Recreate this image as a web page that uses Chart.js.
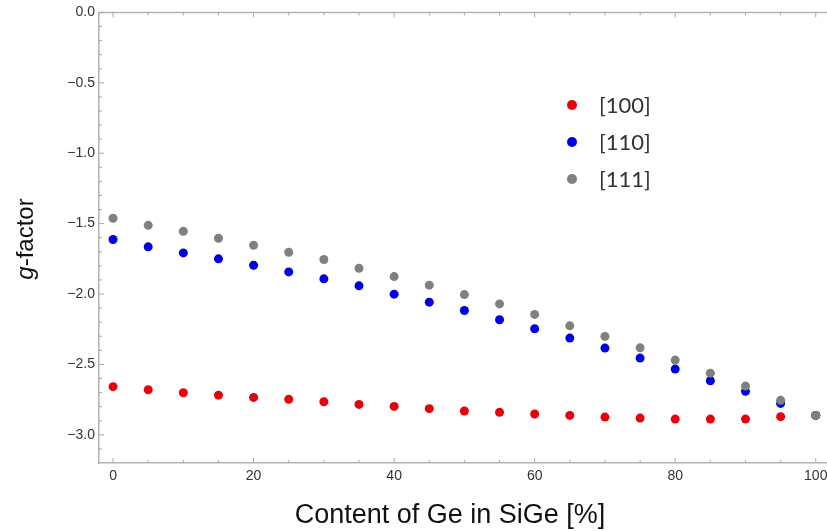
<!DOCTYPE html>
<html>
<head>
<meta charset="utf-8">
<script src="https://cdn.jsdelivr.net/npm/chart.js@4.4.1/dist/chart.umd.min.js"></script>
<style>
  html, body { margin: 0; padding: 0; background: #fff; }
  #wrap { width: 827px; height: 531px; }
</style>
</head>
<body>
<div id="wrap"><canvas id="gChart"></canvas></div>
<script>
// Ge content in SiGe [%]
const geContent = [0, 5, 10, 15, 20, 25, 30, 35, 40, 45, 50, 55, 60, 65, 70, 75, 80, 85, 90, 95, 100];

// g-factor along the three directions
const g100 = [-2.658, -2.680, -2.701, -2.718, -2.734, -2.748, -2.765, -2.784, -2.798, -2.814, -2.831,
              -2.840, -2.852, -2.862, -2.874, -2.881, -2.888, -2.888, -2.888, -2.871, -2.862];
const g110 = [-1.613, -1.665, -1.708, -1.750, -1.796, -1.843, -1.892, -1.942, -2.001, -2.058, -2.117,
              -2.183, -2.247, -2.313, -2.384, -2.455, -2.533, -2.616, -2.691, -2.777, -2.862];
const g111 = [-1.462, -1.512, -1.555, -1.604, -1.654, -1.703, -1.755, -1.817, -1.876, -1.937, -2.004,
              -2.070, -2.145, -2.226, -2.301, -2.382, -2.469, -2.562, -2.654, -2.755, -2.862];

const seriesLabels = ['[100]', '[110]', '[111]'];
const seriesColors = ['#e8000b', '#0000e6', '#808080'];

// tick marks
const xMajorTicks = [0, 20, 40, 60, 80, 100];
const xMinorTicks = [5, 10, 15, 25, 30, 35, 45, 50, 55, 65, 70, 75, 85, 90, 95];
const yMajorTicks = [0, -0.5, -1.0, -1.5, -2.0, -2.5, -3.0];
const yMinorTicks = [-0.1, -0.2, -0.3, -0.4, -0.6, -0.7, -0.8, -0.9, -1.1, -1.2, -1.3, -1.4,
                     -1.6, -1.7, -1.8, -1.9, -2.1, -2.2, -2.3, -2.4, -2.6, -2.7, -2.8, -2.9, -3.1];

function toPoints(ys) {
    return geContent.map((x, i) => ({ x: x, y: ys[i] }));
}

function fmtY(v) {
    const s = Math.abs(v).toFixed(1);
    return v < 0 ? '\u2212' + s : s;
}

// frame, inward ticks, axis titles and the legend box
const decorPlugin = {
    id: 'decor',
    afterDraw(chart) {
        const c = chart.ctx;
        const area = chart.chartArea;
        const xs = chart.scales.x;
        const ys = chart.scales.y;
        c.save();
        c.strokeStyle = '#b4b4b4';
        c.lineWidth = 1.5;
        c.beginPath();
        c.moveTo(area.left, area.top);
        c.lineTo(area.right, area.top);
        c.stroke();

        c.lineWidth = 1;
        c.strokeStyle = '#a8a8a8';
        c.beginPath();
        xMajorTicks.concat(xMinorTicks).forEach(v => {
            const len = xMajorTicks.includes(v) ? 5 : 3;
            const px = xs.getPixelForValue(v);
            c.moveTo(px, area.bottom); c.lineTo(px, area.bottom - len);
            c.moveTo(px, area.top); c.lineTo(px, area.top + len);
        });
        yMajorTicks.concat(yMinorTicks).forEach(v => {
            const len = yMajorTicks.includes(v) ? 5 : 3;
            const py = ys.getPixelForValue(v);
            c.moveTo(area.left, py); c.lineTo(area.left + len, py);
        });
        c.stroke();

        // x title
        c.fillStyle = '#111';
        c.font = '27px "Liberation Sans", Arial, sans-serif';
        c.textAlign = 'center';
        c.textBaseline = 'alphabetic';
        c.fillText('Content of Ge in SiGe [%]', 450, 523);

        // y title, italic g
        c.translate(33, 239);
        c.rotate(-Math.PI / 2);
        c.textAlign = 'left';
        const f1 = 'italic 24px "Liberation Sans", Arial, sans-serif';
        const f2 = '24px "Liberation Sans", Arial, sans-serif';
        c.font = f1;
        const w1 = c.measureText('g').width;
        c.font = f2;
        const w2 = c.measureText('-factor').width;
        const x0 = -(w1 + w2) / 2;
        c.font = f1;
        c.fillText('g', x0, 0);
        c.font = f2;
        c.fillText('-factor', x0 + w1, 0);
        c.restore();

        // legend
        c.save();
        c.font = '22px Lato, "Noto Sans", sans-serif';
        c.textBaseline = 'middle';
        c.textAlign = 'left';
        chart.data.datasets.forEach((ds, i) => {
            const ly = 105 + i * 37;
            c.fillStyle = ds.backgroundColor;
            c.beginPath();
            c.arc(572, ly, 5, 0, Math.PI * 2);
            c.fill();
            c.fillStyle = '#333';
            c.fillText(ds.label, 599, ly + 1);
        });
        c.restore();
    }
};

const ctx = document.getElementById('gChart').getContext('2d');
const gChart = new Chart(ctx, {
    type: 'scatter',
    data: {
        datasets: [g100, g110, g111].map((ys, i) => ({
            label: seriesLabels[i],
            data: toPoints(ys),
            backgroundColor: seriesColors[i],
            borderWidth: 0,
            pointRadius: 4.5,
            order: 3 - i
        }))
    },
    options: {
        responsive: true,
        maintainAspectRatio: false,
        animation: false,
        layout: { autoPadding: false, padding: { top: 12, right: 0, left: 0, bottom: 0 } },
        plugins: {
            legend: { display: false },
            tooltip: { enabled: false }
        },
        scales: {
            x: {
                type: 'linear',
                min: -2,
                max: 101.6,
                afterBuildTicks: axis => { axis.ticks = xMajorTicks.map(v => ({ value: v })); },
                afterFit: axis => {
                    axis.height = 68;
                    axis.paddingLeft = 0;
                    axis.paddingRight = 0;
                },
                grid: { display: false, drawTicks: false },
                border: { display: true, color: '#b4b4b4', width: 1.5 },
                ticks: {
                    padding: 5,
                    color: '#333',
                    font: { family: '"Liberation Sans", Arial, sans-serif', size: 14 },
                    maxRotation: 0
                }
            },
            y: {
                type: 'linear',
                min: -3.2,
                max: 0,
                afterBuildTicks: axis => { axis.ticks = yMajorTicks.map(v => ({ value: v })); },
                afterFit: axis => { axis.width = 99; },
                grid: { display: false, drawTicks: false },
                border: { display: true, color: '#b4b4b4', width: 1.5 },
                ticks: {
                    padding: 4,
                    color: '#333',
                    font: { family: '"Liberation Sans", Arial, sans-serif', size: 14 },
                    callback: v => fmtY(v)
                }
            }
        }
    },
    plugins: [decorPlugin]
});
</script>
</body>
</html>
